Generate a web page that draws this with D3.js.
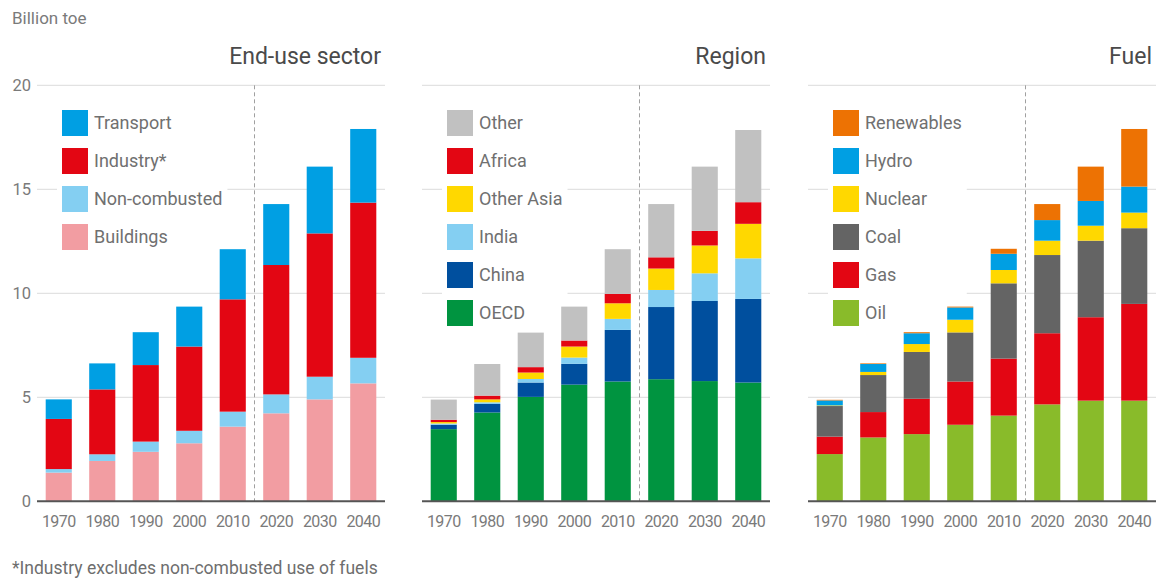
<!DOCTYPE html>
<html>
<head>
<meta charset="utf-8">
<script src="https://cdn.jsdelivr.net/npm/d3@7"></script>
<style>
  body { margin: 0; background: #fff; }
  text { font-family: Roboto, "Noto Sans", sans-serif; }
</style>
</head>
<body>
<svg id="chart" width="1157" height="580"></svg>
<script>
// values, billion toe
const years = ['1970', '1980', '1990', '2000', '2010', '2020', '2030', '2040'];
const yTicks = [0, 5, 10, 15, 20];

// end-use sector
const buildings    = [1.38, 1.94, 2.38, 2.79, 3.59, 4.23, 4.90, 5.67];
const nonCombusted = [0.17, 0.32, 0.49, 0.60, 0.72, 0.91, 1.09, 1.23];
const industry     = [2.41, 3.12, 3.68, 4.05, 5.40, 6.22, 6.89, 7.46];
const transport    = [0.94, 1.25, 1.58, 1.92, 2.41, 2.93, 3.21, 3.54];

// region
const oecd        = [3.47, 4.27, 5.02, 5.61, 5.76, 5.87, 5.78, 5.71];
const china       = [0.21, 0.41, 0.69, 1.00, 2.48, 3.47, 3.85, 4.02];
const india       = [0.06, 0.08, 0.17, 0.30, 0.53, 0.82, 1.33, 1.95];
const otherAsia   = [0.07, 0.14, 0.31, 0.53, 0.75, 1.03, 1.34, 1.66];
const africa      = [0.11, 0.18, 0.26, 0.29, 0.45, 0.54, 0.70, 1.04];
const otherRegion = [0.97, 1.52, 1.66, 1.63, 2.15, 2.56, 3.09, 3.47];

// fuel
const oil        = [2.27, 3.07, 3.23, 3.68, 4.12, 4.66, 4.84, 4.84];
const gas        = [0.84, 1.22, 1.70, 2.08, 2.74, 3.42, 4.01, 4.65];
const coal       = [1.47, 1.78, 2.25, 2.36, 3.62, 3.76, 3.68, 3.64];
const nuclear    = [0.03, 0.15, 0.38, 0.61, 0.64, 0.69, 0.72, 0.75];
const hydro      = [0.24, 0.38, 0.52, 0.59, 0.78, 0.99, 1.19, 1.25];
const renewables = [0.03, 0.03, 0.05, 0.04, 0.24, 0.77, 1.65, 2.77];

const panels = [
  { title: 'End-use sector', x0: 37,
    series: [
      { name: 'Buildings', values: buildings, color: '#f29da2' },
      { name: 'Non-combusted', values: nonCombusted, color: '#84cff2' },
      { name: 'Industry*', values: industry, color: '#e30613' },
      { name: 'Transport', values: transport, color: '#009fe3' }
    ] },
  { title: 'Region', x0: 422,
    series: [
      { name: 'OECD', values: oecd, color: '#009440' },
      { name: 'China', values: china, color: '#004f9e' },
      { name: 'India', values: india, color: '#84cff2' },
      { name: 'Other Asia', values: otherAsia, color: '#ffd800' },
      { name: 'Africa', values: africa, color: '#e30613' },
      { name: 'Other', values: otherRegion, color: '#c1c1c1' }
    ] },
  { title: 'Fuel', x0: 808,
    series: [
      { name: 'Oil', values: oil, color: '#89bb2a' },
      { name: 'Gas', values: gas, color: '#e30613' },
      { name: 'Coal', values: coal, color: '#646464' },
      { name: 'Nuclear', values: nuclear, color: '#ffd800' },
      { name: 'Hydro', values: hydro, color: '#009fe3' },
      { name: 'Renewables', values: renewables, color: '#ed7203' }
    ] }
];

const svg = d3.select('#chart'),
      panelW = 348,
      y = d3.scaleLinear().domain([0, 20]).range([501.3, 85.3]);

svg.append('text')
  .attr('x', 12).attr('y', 24)
  .attr('font-size', '17px')
  .attr('fill', '#7a7a7a')
  .text('Billion toe');

svg.append('text')
  .attr('x', 12).attr('y', 574)
  .attr('font-size', '17.5px')
  .attr('fill', '#6e6e6e')
  .text('*Industry excludes non-combusted use of fuels');

svg.append('g')
  .selectAll('text')
  .data(yTicks)
  .join('text')
  .attr('x', 31)
  .attr('y', d => y(d) + 6)
  .attr('text-anchor', 'end')
  .attr('font-size', '16.5px')
  .attr('fill', '#7a7a7a')
  .text(d => d);

panels.forEach(p => {
  const g = svg.append('g').classed('panel', true),
        x = d3.scaleBand()
              .domain(years)
              .range([p.x0, p.x0 + panelW])
              .paddingInner(0.4)
              .paddingOuter(0.2);

  // gridlines
  g.append('g')
    .selectAll('line')
    .data(yTicks.filter(d => d > 0))
    .join('line')
    .attr('x1', p.x0).attr('x2', p.x0 + panelW)
    .attr('y1', d => y(d)).attr('y2', d => y(d))
    .attr('stroke', '#e2e2e2')
    .attr('stroke-width', 1.2);

  // history / outlook divider
  const xd = (x('2010') + x.bandwidth() + x('2020')) / 2;
  g.append('line')
    .attr('x1', xd).attr('x2', xd)
    .attr('y1', y(20)).attr('y2', y(0))
    .attr('stroke', '#a0a0a0')
    .attr('stroke-width', 1)
    .attr('stroke-dasharray', '4,3');

  // legend, top of the stack first, white box hides the gridlines
  const legend = g.append('g'),
        items  = p.series.slice().reverse();
  const box = legend.append('rect').attr('fill', '#fff');
  items.forEach((s, i) => {
    legend.append('rect')
      .attr('x', p.x0 + 25).attr('y', 110 + i * 38)
      .attr('width', 26).attr('height', 26)
      .attr('fill', s.color);
    legend.append('text')
      .attr('x', p.x0 + 57).attr('y', 110 + i * 38 + 19)
      .attr('font-size', '18px')
      .attr('fill', '#707070')
      .text(s.name);
  });
  const bb = legend.node().getBBox();
  box.attr('x', bb.x - 5).attr('y', bb.y - 5)
     .attr('width', bb.width + 10).attr('height', bb.height + 10);

  // stacked bars
  const table = years.map((yr, i) => {
    const row = { year: yr };
    p.series.forEach(s => { row[s.name] = s.values[i]; });
    return row;
  });
  const stack = d3.stack().keys(p.series.map(s => s.name))(table);

  g.append('g')
    .selectAll('g')
    .data(stack)
    .join('g')
    .attr('fill', (d, i) => p.series[i].color)
    .selectAll('rect')
    .data(d => d)
    .join('rect')
    .attr('x', d => x(d.data.year))
    .attr('width', x.bandwidth())
    .attr('y', d => y(d[1]))
    .attr('height', d => y(d[0]) - y(d[1]));

  // baseline
  g.append('line')
    .attr('x1', p.x0).attr('x2', p.x0 + panelW)
    .attr('y1', y(0)).attr('y2', y(0))
    .attr('stroke', '#555')
    .attr('stroke-width', 2);

  // year labels
  g.append('g')
    .selectAll('text')
    .data(years)
    .join('text')
    .attr('x', d => x(d) + x.bandwidth() / 2)
    .attr('y', 527)
    .attr('text-anchor', 'middle')
    .attr('font-size', '16px')
    .attr('letter-spacing', '-0.6px')
    .attr('fill', '#7a7a7a')
    .text(d => d);

  g.append('text')
    .attr('x', p.x0 + 344).attr('y', 64)
    .attr('text-anchor', 'end')
    .attr('font-size', '23px')
    .attr('fill', '#4a4a4a')
    .text(p.title);
});
</script>
</body>
</html>
